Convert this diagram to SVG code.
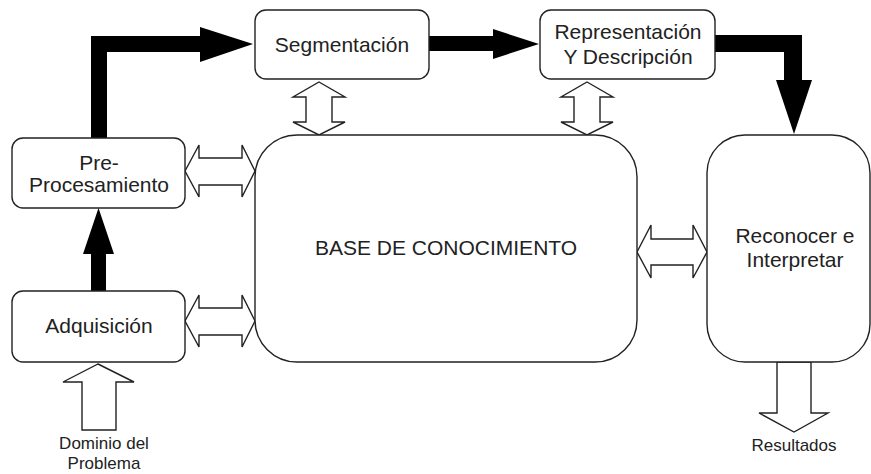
<svg xmlns="http://www.w3.org/2000/svg" width="871" height="474" viewBox="0 0 871 474">
<style>
.box{fill:#fff;stroke:#222;stroke-width:1.4}
.t{font-family:"Liberation Sans",Arial,sans-serif;font-size:21px;fill:#222;text-anchor:middle}
.s{font-size:17px}
.thick{fill:#000;stroke:none}
.hollow{fill:#fff;stroke:#222;stroke-width:1.4;stroke-linejoin:miter}
</style>
<rect width="871" height="474" fill="#fff"/>
<g id="connectors">
<polygon class="thick" points="91,138 91,36 200,36 200,27 253,44 200,62 200,52 107,52 107,138"/>
<polygon class="thick" points="91,291 91,254 83,254 98.5,208 114,254 106,254 106,291"/>
<polygon class="thick" points="429,36 493,36 493,29 539,44 493,59 493,51 429,51"/>
<polygon class="thick" points="715,35 802,35 802,80 812,80 794,134 776,80 784,80 784,52 715,52"/>
<path class="hollow" d="M185,171 L199,145 L199,158 L242,158 L242,145 L255,171 L242,197 L242,185 L199,185 L199,197 Z"/>
<path class="hollow" d="M185,321 L199,295 L199,308 L242,308 L242,295 L255,321 L242,347 L242,335 L199,335 L199,347 Z"/>
<path class="hollow" d="M637,252 L651,225 L651,239 L693,239 L693,225 L707,252 L693,278 L693,265 L651,265 L651,278 Z"/>
<path class="hollow" d="M319,82 L345,97 L332,97 L332,122 L345,122 L319,135 L293,122 L306,122 L306,97 L293,97 Z"/>
<path class="hollow" d="M587,82 L613,97 L600,97 L600,122 L613,122 L587,135 L561,122 L574,122 L574,97 L561,97 Z"/>
<path class="hollow" d="M98,364 L134,382 L116,382 L116,430 L82,430 L82,382 L63,382 Z"/>
<path class="hollow" d="M777,362 L811,362 L811,413 L828,413 L794,432 L759,413 L777,413 Z"/>
</g>
<g id="segmentacion">
<rect class="box" x="255" y="10" width="174" height="69" rx="11"/>
<text class="t" x="342" y="52">Segmentación</text>
</g>
<g id="representacion">
<rect class="box" x="540" y="10" width="175" height="69" rx="11"/>
<text class="t" x="628" y="39">Representación</text>
<text class="t" x="628" y="64">Y Descripción</text>
</g>
<g id="preprocesamiento">
<rect class="box" x="12" y="138" width="173" height="70" rx="11"/>
<text class="t" x="99" y="170">Pre-</text>
<text class="t" x="99" y="192">Procesamiento</text>
</g>
<g id="adquisicion">
<rect class="box" x="12" y="291" width="173" height="71" rx="11"/>
<text class="t" x="99" y="333">Adquisición</text>
</g>
<g id="base">
<rect class="box" x="255" y="135" width="382" height="227" rx="42"/>
<text class="t" x="446" y="255">BASE DE CONOCIMIENTO</text>
</g>
<g id="reconocer">
<rect class="box" x="707" y="135" width="163" height="227" rx="38"/>
<text class="t" x="795" y="243">Reconocer e</text>
<text class="t" x="795" y="267">Interpretar</text>
</g>
<g id="dominio">
<text class="t s" x="104" y="449">Dominio del</text>
<text class="t s" x="104" y="469">Problema</text>
</g>
<g id="resultados">
<text class="t s" x="794" y="451">Resultados</text>
</g>
</svg>
